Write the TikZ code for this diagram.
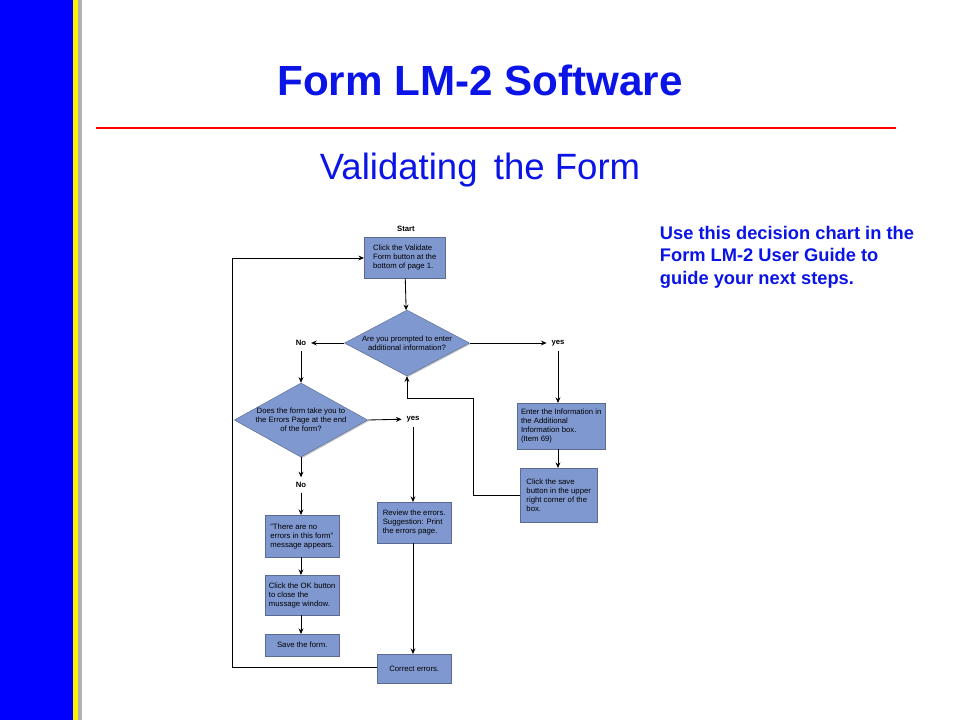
\documentclass[tikz,border=0pt]{standalone}
\usepackage{fontspec}
\setmainfont{Liberation Sans}
\usetikzlibrary{positioning,calc,shapes.geometric,shadows,arrows.meta}
\definecolor{slideblue}{RGB}{0,0,255}
\definecolor{boxblue}{RGB}{128,152,208}
\definecolor{titleblue}{RGB}{10,20,230}

\begin{document}
\begin{tikzpicture}[x=0.025cm,y=-0.025cm,
         stepbox/.style = {draw=boxblue!70!black,fill=boxblue,line width=0.3pt,
         drop shadow={shadow xshift=0.8pt,shadow yshift=-0.8pt,fill=black!45},
         align=left,inner sep=2.5pt,anchor=north west,
         font=\fontsize{5.5}{6.4}\selectfont},
         decision/.style = {diamond,draw=boxblue!70!black,fill=boxblue,line width=0.3pt,
         drop shadow={shadow xshift=0.8pt,shadow yshift=-0.8pt,fill=black!45},
         aspect=1.8,inner sep=0pt,align=center,font=\fontsize{5.5}{6.4}\selectfont},
         answer/.style = {font=\fontsize{5.5}{6.4}\selectfont\bfseries},
         flow/.style = {line width=0.6pt,-{Stealth[length=4pt,width=3.5pt]}}]

      \useasboundingbox (0,0) rectangle (960,720);

      % slide frame
      \fill[slideblue] (0,0) rectangle (73,720);
      \fill[yellow] (73,0) rectangle (78,720);
      \fill[black!30] (78,0) rectangle (82,720);
      \draw[red,line width=2pt] (96,128) -- (896,128);

      \node[titleblue,font=\fontsize{30}{33}\selectfont\bfseries] (title) at (480,80) {Form LM-2 Software};
      \node[titleblue,font=\fontsize{26}{29}\selectfont] (subtitle) at (480,170) {Validating\, the Form};
      \node[titleblue,anchor=north west,align=left,font=\fontsize{13}{16}\selectfont\bfseries]
         (hint) at (655,221) {Use this decision chart in the\\Form LM-2 User Guide to\\guide your next steps.};

      % main column
      \node[answer] (start) at (406,229) {Start};
      \node[stepbox,minimum width=81*0.025cm,minimum height=41*0.025cm] (validate) at (364,237)
         {Click the Validate\\Form button at the\\bottom of page 1.};
      \node[decision,minimum width=125*0.025cm,minimum height=66*0.025cm] (prompt) at (407,343)
         {Are you prompted to enter\\additional information?};
      \node[answer] (no1) at (301,343) {No};
      \node[answer] (yes1) at (558,343) {yes};

      \node[decision,minimum width=124*0.025cm,minimum height=74*0.025cm] (errpage) at (301,420)
         {Does the form take you to\\the Errors Page at the end\\of the form?};
      \node[answer] (yes2) at (413,419) {yes};
      \node[answer] (no2) at (301,485) {No};

      % right branch
      \node[stepbox,minimum width=88*0.025cm,minimum height=46*0.025cm] (enter) at (517,403)
         {Enter the Information in\\the Additional\\Information box.\\(Item 69)};
      \node[stepbox,minimum width=77*0.025cm,minimum height=54*0.025cm] (save) at (520,468)
         {Click the save\\button in the upper\\right corner of the\\box.};

      % error branch
      \node[stepbox,minimum width=74*0.025cm,minimum height=41*0.025cm] (review) at (377,502)
         {Review the errors.\\Suggestion: Print\\the errors page.};
      \node[stepbox,minimum width=74*0.025cm,minimum height=29*0.025cm,align=center] (correct) at (377,654)
         {Correct errors.};

      % no-error branch
      \node[stepbox,minimum width=74*0.025cm,minimum height=42*0.025cm] (noerr) at (265,515)
         {"There are no\\errors in this form"\\message appears.};
      \node[stepbox,minimum width=74*0.025cm,minimum height=40*0.025cm] (okbtn) at (265,575)
         {Click the OK button\\to close the\\mussage window.};
      \node[stepbox,minimum width=74*0.025cm,minimum height=22*0.025cm,align=center] (saveform) at (265,634)
         {Save the form.};

      \coordinate (loop1) at (232,667);
      \coordinate (loop2) at (232,258);
      \coordinate (back1) at (473,495);
      \coordinate (back2) at (473,398);
      \coordinate (back3) at (407,398);

      \draw[flow] (validate) -- (prompt);
      \draw[flow] (prompt.west) -- (no1);
      \draw[flow] (prompt.east) -- (yes1);
      \draw[flow] (no1) -- (errpage.north);
      \draw[flow] (errpage.east) -- (yes2);
      \draw[flow] (yes2) -- (review.north -| yes2);
      \draw[flow] (review.south -| yes2) -- (correct.north -| yes2);
      \draw[flow] (errpage.south) -- (no2);
      \draw[flow] (no2) -- (noerr.north -| no2);
      \draw[flow] (noerr.south -| no2) -- (okbtn.north -| no2);
      \draw[flow] (okbtn.south -| no2) -- (saveform.north -| no2);
      \draw[flow] (yes1) -- (enter.north -| yes1);
      \draw[flow] (enter.south -| yes1) -- (save.north -| yes1);
      \draw[flow] (save.west |- back1) -- (back1) -- (back2) -- (back3) -- (prompt.south);
      \draw[flow] (correct.west |- loop1) -- (loop1) -- (loop2) -- (validate.west |- loop2);
\end{tikzpicture}
\end{document}
